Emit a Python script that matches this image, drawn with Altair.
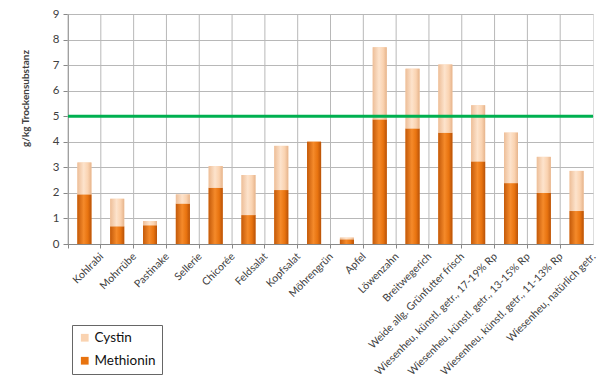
import altair as alt
import pandas as pd

categories = ["Kohlrabi", "Mohrrübe", "Pastinake", "Sellerie", "Chicorée", "Feldsalat",
              "Kopfsalat", "Möhrengrün", "Apfel", "Löwenzahn", "Breitwegerich",
              "Weide allg. Grünfutter frisch", "Wiesenheu, künstl. getr., 17-19% Rp",
              "Wiesenheu, künstl. getr., 13-15% Rp", "Wiesenheu, künstl. getr., 11-13% Rp",
              "Wiesenheu, natürlich getr."]
methionin = [1.94, 0.69, 0.73, 1.58, 2.2, 1.13, 2.11, 4.0, 0.18, 4.87, 4.52, 4.35, 3.23, 2.38, 2.0, 1.29]
cystin = [1.25, 1.08, 0.17, 0.36, 0.85, 1.57, 1.73, 0.0, 0.07, 2.83, 2.34, 2.67, 2.2, 1.98, 1.41, 1.57]
threshold = [5]
yticks = [0, 1, 2, 3, 4, 5, 6, 7, 8, 9]

rows = []
for c, m, cy in zip(categories, methionin, cystin):
    rows.append({"cat": c, "series": "Methionin", "y0": 0, "y1": m})
    rows.append({"cat": c, "series": "Cystin", "y0": m, "y1": m + cy})
df = pd.DataFrame(rows)
cats_df = pd.DataFrame({"cat": categories})

FONT = "Lato"
GRID = "#b8b8b8"
xscale = alt.Scale(domain=categories, paddingInner=0, paddingOuter=0)
xaxis = alt.Axis(labelAngle=-45, labelAlign="right", labelBaseline="top",
                 bandPosition=0, labelOffset=14, labelFontSize=10.5,
                 labelColor="#404040", labelFont=FONT, grid=False,
                 tickColor="#888", domainColor="#888", tickSize=4,
                 labelPadding=3, labelOverlap=False, labelBound=False, labelLimit=0)
xenc = alt.X("cat:N", sort=categories, title=None, scale=xscale, axis=xaxis)
yscale = alt.Scale(domain=[0, 9], nice=False)
yaxis = alt.Axis(values=yticks, title="g/kg Trockensubstanz", titleFont=FONT,
                 titleFontSize=10, titleFontWeight="bold", titleColor="#404040",
                 titleAnchor="middle", titleX=-38, titleY=84, titleAngle=-90,
                 titleAlign="center", titleBaseline="bottom",
                 labelFont=FONT, labelFontSize=11.5, labelColor="#404040", grid=True,
                 gridColor=GRID, tickColor="#888", domainColor="#888", tickSize=5,
                 labelPadding=4, labelOverlap=False)
yenc = alt.Y("y0:Q", scale=yscale, axis=yaxis)

vgrid = alt.Chart(cats_df).mark_rule(color=GRID, strokeWidth=1).encode(
    x=alt.X("cat:N", sort=categories, title=None, scale=xscale, axis=xaxis, bandPosition=0))

base = alt.Chart(df)
bars = base.mark_bar(size=14).encode(
    x=xenc,
    y=yenc,
    y2="y1:Q",
    color=alt.Color("series:N", scale=alt.Scale(domain=["Cystin", "Methionin"],
                                                range=["#FAD3B1", "#E8730F"]),
                    legend=alt.Legend(title=None, orient="none", legendX=4, legendY=311,
                                      labelFont=FONT, labelFontSize=13.5, labelColor="#111",
                                      symbolType="square", symbolSize=60,
                                      strokeColor="#666", padding=6, rowPadding=8,
                                      fillColor="white", symbolStrokeWidth=0,
                                      labelOffset=3)),
)

meth_grad = alt.Gradient(gradient="linear", x1=0, x2=1, y1=0, y2=0,
                         stops=[alt.GradientStop(color="#C45A0A", offset=0),
                                alt.GradientStop(color="#F58A2A", offset=0.45),
                                alt.GradientStop(color="#E8730F", offset=0.75),
                                alt.GradientStop(color="#B85208", offset=1)])
cys_grad = alt.Gradient(gradient="linear", x1=0, x2=1, y1=0, y2=0,
                        stops=[alt.GradientStop(color="#EDBE98", offset=0),
                               alt.GradientStop(color="#FDE3CC", offset=0.45),
                               alt.GradientStop(color="#FAD3B1", offset=0.75),
                               alt.GradientStop(color="#E6B48C", offset=1)])

meth = base.transform_filter(alt.datum.series == "Methionin").mark_bar(
    size=14, fill=meth_grad).encode(x=xenc, y=yenc, y2="y1:Q")
cys = base.transform_filter(alt.datum.series == "Cystin").mark_bar(
    size=14, fill=cys_grad).encode(x=xenc, y=yenc, y2="y1:Q")

rule = alt.Chart(pd.DataFrame({"t": threshold})).mark_rule(
    color="#00B050", strokeWidth=3).encode(y=alt.Y("t:Q", scale=yscale, axis=yaxis))

chart = alt.layer(vgrid, bars, meth, cys, rule).properties(
    width=525, height=230,
    autosize=alt.AutoSizeParams(type="none"),
    padding={"left": 60, "top": 6, "right": 4, "bottom": 139},
).configure_view(stroke=GRID).configure(background="white")

chart.save("out.html", embed_options={"renderer": "svg", "actions": False})
